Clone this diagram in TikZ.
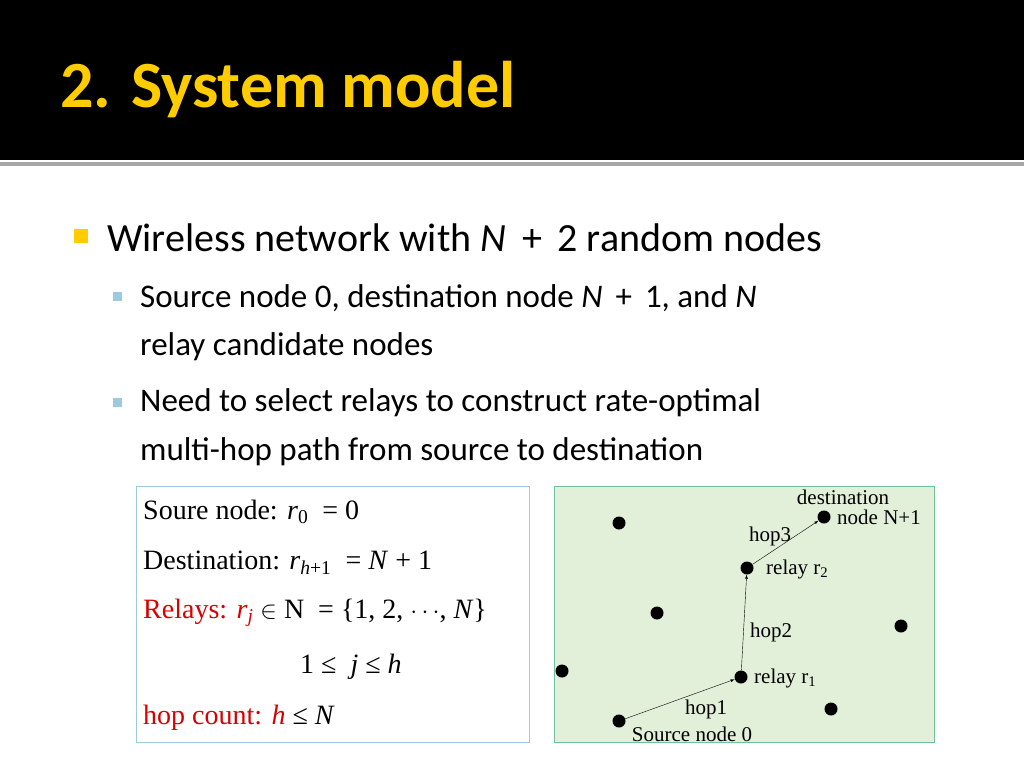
\documentclass[tikz,border=0pt]{standalone}
\usepackage{fontspec}
\setmainfont{Carlito}
\newfontfamily\tms{Liberation Serif}
\definecolor{gfill}{HTML}{E2EFD9}
\definecolor{gline}{HTML}{70C0A0}
\definecolor{bline}{HTML}{9CCBE0}
\definecolor{ttl}{HTML}{FFCC00}
\begin{document}
\begin{tikzpicture}[x=1pt,y=-1pt,
  dot/.style={circle,fill=black,inner sep=0pt,minimum size=13pt},
  lbl/.style={font=\tms\fontsize{21}{22}\selectfont,inner sep=0pt},
  hop/.style={-latex,thin},
  body/.style={anchor=west,inner sep=0pt},
  eq/.style={anchor=west,inner sep=0pt,font=\tms\fontsize{28}{30}\selectfont}]
\useasboundingbox (0,0) rectangle (1024,768);
\fill[white] (0,0) rectangle (1024,768);
\fill[black] (0,0) rectangle (1024,160);
\fill[gray!70] (0,162) rectangle (1024,166);
\node[body,font=\bfseries\fontsize{66}{70}\selectfont,text=ttl] (title) at (60,90) {2. System model};
% bullets
\fill[ttl] (74,229) rectangle (88,243);
\node[body,font=\fontsize{40}{42}\selectfont] (b1) at (107,238) {Wireless network with \textit{N}\, +\, 2 random nodes};
\fill[bline] (113,292) rectangle (122,301);
\node[body,font=\fontsize{33}{34}\selectfont] (b2) at (140,298) {Source node 0, destination node \textit{N}\, +\, 1, and \textit{N}};
\node[body,font=\fontsize{33}{34}\selectfont] (b2b) at (140,347) {relay candidate nodes};
\fill[bline] (113,398) rectangle (122,407);
\node[body,font=\fontsize{33}{34}\selectfont] (b3) at (140,403) {Need to select relays to construct rate-optimal};
\node[body,font=\fontsize{33}{34}\selectfont] (b3b) at (140,452) {multi-hop path from source to destination};
% left box
\draw[bline,line width=1pt] (136,486) rectangle (529,742);
\node[eq] (e1) at (143,512) {Soure node: \textit{r}\textsubscript{0} \ = 0};
\node[eq] (e2) at (143,563) {Destination: \textit{r}\textsubscript{\textit{h}+1} \ = \textit{N} + 1};
\node[eq,text=red!85!black] (e3) at (143,613) {Relays: \textit{r}\textsubscript{\textit{j}} {\color{black}$\in$ N \ = \{1, 2, $\cdots$, \textit{N}\}}};
\node[eq] (e4) at (300,667) {1 ≤ \ \textit{j} ≤ \textit{h}};
\node[eq,text=red!85!black] (e5) at (143,718) {hop count: \textit{h} {\color{black}≤ \textit{N}}};
% green box
\draw[fill=gfill,draw=gline,line width=1pt] (554,486) rectangle (934,742);
\node[dot] (d1) at (619,523) {};
\node[dot] (dst) at (824,517) {};
\node[dot] (r2) at (747,568) {};
\node[dot] (d2) at (657,613) {};
\node[dot] (d3) at (901,626) {};
\node[dot] (d4) at (562,671) {};
\node[dot] (r1) at (741,677) {};
\node[dot] (d5) at (831,709) {};
\node[dot] (src) at (619,721) {};
\draw[hop] (src) -- (r1);
\draw[hop] (r1) -- (r2);
\draw[hop] (r2) -- (dst);
\node[lbl] (ld) at (843,497) {destination};
\node[lbl,anchor=west] (ln) at (837,517) {node N+1};
\node[lbl] (lh3) at (770,536) {hop3};
\node[lbl,anchor=west] (lr2) at (766,569) {relay r\textsubscript{2}};
\node[lbl] (lh2) at (771,632) {hop2};
\node[lbl,anchor=west] (lr1) at (754,678) {relay r\textsubscript{1}};
\node[lbl] (lh1) at (706,709) {hop1};
\node[lbl] (ls) at (692,734) {Source node 0};
\end{tikzpicture}
\end{document}
